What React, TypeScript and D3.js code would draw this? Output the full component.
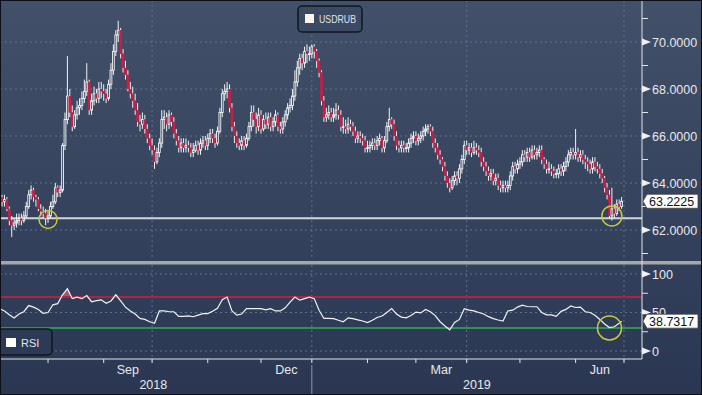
import * as d3 from 'd3';

// daily USDRUB, 2 Jul 2018 .. 28 Jun 2019 (weekdays)
const startDate = '2018-07-02';
const firstOpen = 63.4;
const closes = [
  63.6, 63.3, 63.4, 63.2, 63.3, 62.9, 62.4, 62.2, 62.3, 62.4,
  62.5, 62.4, 62.6, 63.0, 63.5, 63.7, 63.4, 63.3, 62.9, 62.8,
  62.7, 62.5, 62.6, 63.0, 63.2, 63.8, 63.6, 63.7, 65.6, 66.7,
  67.7, 67.0, 66.4, 66.9, 67.2, 67.3, 67.6, 67.9, 68.3, 67.1,
  67.5, 67.8, 67.6, 68.0, 67.9, 67.8, 67.6, 68.2, 68.8, 69.6,
  70.3, 70.5, 69.5, 68.9, 68.6, 68.0, 67.8, 67.5, 67.1, 66.6,
  66.5, 66.7, 66.3, 65.9, 65.6, 65.4, 64.9, 65.3, 65.7, 66.7,
  66.8, 66.5, 66.9, 66.6, 66.1, 65.8, 65.5, 65.7, 65.5, 65.6,
  65.5, 65.3, 65.4, 65.6, 65.4, 65.7, 65.8, 65.6, 65.9, 66.1,
  65.9, 65.7, 66.2, 67.0, 67.8, 67.9, 68.0, 67.2, 66.4, 66.0,
  65.7, 65.6, 65.8, 65.6, 65.9, 66.4, 67.0, 66.7, 66.4, 66.9,
  66.3, 66.7, 66.5, 66.8, 66.4, 66.6, 66.9, 66.4, 66.3, 66.6,
  66.9, 67.2, 67.3, 67.7, 68.3, 68.9, 69.3, 69.1, 69.6, 69.5,
  69.5, 69.8, 69.6, 69.2, 68.7, 67.5, 66.8, 66.9, 67.0, 66.8,
  66.9, 67.1, 66.9, 66.4, 66.4, 66.3, 66.5, 66.4, 66.2, 65.9,
  66.0, 65.9, 65.8, 65.5, 65.5, 65.6, 65.7, 65.6, 65.8, 65.9,
  65.5, 65.8, 66.4, 66.7, 66.5, 66.0, 65.6, 65.5, 65.6, 65.5,
  65.5, 65.7, 65.9, 66.0, 65.8, 65.9, 66.0, 66.2, 66.3, 66.4,
  66.2, 65.7, 65.5, 65.2, 65.0, 64.7, 64.3, 64.0, 63.8, 64.1,
  64.3, 64.2, 64.6, 65.0, 65.6, 65.4, 65.5, 65.3, 65.5, 65.4,
  65.3, 64.9, 64.7, 64.5, 64.3, 64.4, 64.1, 64.2, 63.9, 63.8,
  63.9, 63.8, 63.9, 64.3, 64.7, 64.6, 64.8, 64.9, 65.2, 65.1,
  65.3, 65.1, 65.4, 65.2, 65.3, 65.4, 65.0, 64.8, 64.6, 64.6,
  64.5, 64.4, 64.4, 64.6, 64.5, 64.7, 64.9, 65.2, 65.3, 65.2,
  65.3, 65.1, 65.2, 65.0, 64.9, 64.8, 64.6, 64.9, 64.7, 64.6,
  64.4, 64.2, 63.8, 63.5, 62.6, 62.9, 62.7, 63.1, 63.0, 63.2225,
];
const highs = [
  63.9, 63.8, 63.6, 63.5, 63.5, 63.4, 63.0, 62.6, 62.5, 62.7,
  62.7, 62.7, 62.8, 63.2, 63.7, 63.9, 63.8, 63.5, 63.4, 63.1,
  63.0, 62.9, 62.8, 63.2, 63.5, 64.0, 63.9, 63.9, 65.7, 67.0,
  69.4, 68.0, 67.3, 67.1, 67.5, 67.6, 67.9, 68.4, 69.1, 68.4,
  67.8, 68.1, 68.0, 68.3, 68.3, 68.2, 68.0, 68.4, 69.1, 69.9,
  70.5, 70.9, 70.6, 69.7, 69.2, 68.8, 68.3, 68.1, 67.8, 67.4,
  66.9, 67.0, 66.9, 66.5, 66.1, 65.9, 65.6, 65.5, 65.9, 67.1,
  67.1, 67.0, 67.1, 67.0, 66.8, 66.3, 66.0, 65.9, 65.9, 65.9,
  65.8, 65.7, 65.7, 65.8, 65.8, 65.9, 66.0, 66.0, 66.1, 66.3,
  66.3, 66.1, 66.4, 67.2, 68.0, 68.2, 68.3, 68.2, 67.4, 66.6,
  66.2, 65.9, 66.0, 66.0, 66.1, 66.6, 67.3, 67.3, 67.0, 67.2,
  67.1, 66.9, 67.0, 67.0, 67.0, 66.8, 67.1, 67.0, 66.6, 66.8,
  67.1, 67.4, 67.6, 68.0, 68.8, 69.2, 69.5, 69.5, 69.8, 69.9,
  69.8, 69.9, 69.9, 69.7, 69.3, 68.8, 67.7, 67.2, 67.3, 67.2,
  67.2, 67.4, 67.3, 67.1, 66.8, 66.7, 66.8, 66.7, 66.6, 66.4,
  66.2, 66.2, 66.1, 66.0, 65.8, 65.8, 65.9, 65.9, 66.0, 66.1,
  66.0, 66.0, 66.6, 67.2, 66.8, 66.7, 66.2, 65.8, 65.8, 65.8,
  65.7, 65.9, 66.1, 66.2, 66.2, 66.1, 66.2, 66.4, 66.5, 66.5,
  66.5, 66.4, 65.9, 65.7, 65.4, 65.1, 64.9, 64.5, 64.2, 64.3,
  64.5, 64.5, 64.8, 65.2, 65.8, 65.8, 65.7, 65.7, 65.8, 65.7,
  65.6, 65.5, 65.1, 64.9, 64.7, 64.6, 64.6, 64.4, 64.4, 64.1,
  64.1, 64.1, 64.1, 64.5, 64.9, 64.9, 65.0, 65.1, 65.4, 65.4,
  65.5, 65.5, 65.6, 65.6, 65.5, 65.6, 65.6, 65.1, 65.0, 64.9,
  64.8, 64.7, 64.6, 64.8, 64.8, 64.9, 65.1, 65.4, 65.5, 65.5,
  66.3, 65.5, 65.4, 65.4, 65.2, 65.1, 65.0, 65.1, 65.1, 64.9,
  64.8, 64.6, 64.3, 64.0, 63.7, 63.8, 63.1, 63.3, 63.3, 63.4,
];
const lows = [
  63.2, 63.2, 63.2, 63.0, 63.0, 62.8, 62.2, 61.7, 62.0, 62.1,
  62.2, 62.2, 62.3, 62.5, 62.9, 63.3, 63.2, 63.0, 62.8, 62.6,
  62.5, 62.2, 62.3, 62.5, 62.9, 63.1, 63.4, 63.4, 63.6, 65.4,
  66.5, 66.8, 66.2, 66.3, 66.7, 66.9, 67.1, 67.4, 67.7, 66.9,
  66.9, 67.3, 67.4, 67.4, 67.6, 67.5, 67.4, 67.5, 68.0, 68.6,
  69.4, 70.0, 69.3, 68.7, 68.4, 67.9, 67.6, 67.2, 66.9, 66.4,
  66.2, 66.3, 66.1, 65.7, 65.4, 65.2, 64.6, 64.8, 65.1, 65.5,
  66.3, 66.2, 66.3, 66.4, 65.9, 65.6, 65.3, 65.3, 65.3, 65.3,
  65.3, 65.1, 65.1, 65.3, 65.2, 65.2, 65.5, 65.4, 65.4, 65.7,
  65.7, 65.5, 65.6, 66.1, 66.8, 67.5, 67.6, 67.0, 66.2, 65.7,
  65.5, 65.4, 65.4, 65.4, 65.5, 65.8, 66.2, 66.4, 66.1, 66.2,
  66.1, 66.2, 66.3, 66.3, 66.2, 66.2, 66.4, 66.2, 66.1, 66.1,
  66.4, 66.7, 67.0, 67.1, 67.5, 68.1, 68.6, 68.8, 68.9, 69.1,
  69.2, 69.3, 69.3, 68.9, 68.5, 67.3, 66.6, 66.6, 66.7, 66.6,
  66.6, 66.7, 66.7, 66.2, 66.1, 66.1, 66.1, 66.2, 66.0, 65.7,
  65.7, 65.7, 65.6, 65.3, 65.3, 65.3, 65.4, 65.4, 65.4, 65.6,
  65.3, 65.3, 65.7, 66.2, 66.3, 65.8, 65.4, 65.3, 65.3, 65.3,
  65.3, 65.3, 65.5, 65.7, 65.6, 65.6, 65.7, 65.8, 66.0, 66.1,
  66.0, 65.5, 65.3, 65.0, 64.8, 64.5, 64.1, 63.8, 63.6, 63.7,
  63.9, 63.9, 64.0, 64.4, 64.8, 65.2, 65.2, 65.1, 65.2, 65.2,
  65.1, 64.7, 64.5, 64.3, 64.1, 64.1, 63.9, 63.9, 63.7, 63.6,
  63.6, 63.6, 63.6, 63.7, 64.1, 64.4, 64.4, 64.6, 64.7, 64.9,
  64.9, 64.9, 65.0, 65.0, 65.0, 65.1, 64.8, 64.6, 64.4, 64.4,
  64.3, 64.2, 64.2, 64.2, 64.3, 64.3, 64.5, 64.7, 65.0, 65.0,
  65.0, 64.9, 64.9, 64.8, 64.6, 64.5, 64.4, 64.4, 64.5, 64.4,
  64.2, 64.0, 63.6, 63.3, 62.5, 62.4, 62.5, 62.6, 62.8, 62.9,
];
// RSI read every second trading day, last value on the final day
const rsiValues = [
  56, 55, 52, 47, 43, 48, 51, 59, 57, 54,
  49, 50, 60, 61.5, 73, 81, 68, 70, 68, 72,
  64, 65.5, 66.5, 62, 65, 73, 65, 57, 52, 48,
  42.3, 41, 38, 36, 52, 52, 51, 51, 45, 45,
  45.5, 44.5, 46.5, 48.5, 48.5, 51.5, 55.5, 66.5, 70, 52,
  46.5, 48, 55, 55, 55, 55, 53.5, 55, 52, 52,
  56, 63.5, 70, 66, 68, 70, 68, 53, 42.3, 42.3,
  42, 40, 38, 43, 42, 40.5, 39, 37, 40, 43.5,
  45.5, 50, 55, 48, 44, 43, 46, 50.5, 49.5, 54,
  51, 46, 38, 32.5, 27.5, 37, 41, 55, 53, 52,
  50, 48, 44.6, 42, 40.3, 39, 52, 53, 57, 59.5,
  57.8, 57.5, 57.5, 50, 47, 46.8, 45, 51.5, 54, 58.5,
  56.5, 57, 51, 50, 46.5, 41, 35, 30.5, 31.5, 36,
];
const rsiLast = 38.7317;

const seriesName = 'USDRUB';
const rsiName = 'RSI';
const priceTicks = [62, 64, 66, 68, 70];
const priceMinorTicks = [61, 63, 65, 67, 69, 71];
const rsiTicks = [0, 50, 100];
const rsiMinorTicks = [25, 75];
const overbought = 70;
const oversold = 30;
const supportLevel = 62.5;
const labelMonths = [8, 11, 2, 5]; // Sep, Dec, Mar, Jun

const W = 702, H = 395;
const plotRight = 642;
const font = 'Liberation Sans, Arial, sans-serif';

function App() {
  // weekday calendar (one extra day so the Jul 1 boundary exists)
  const dates: Date[] = [];
  let d = new Date(startDate + 'T00:00:00Z');
  while (dates.length < closes.length + 1) {
    const wd = d.getUTCDay();
    if (wd !== 0 && wd !== 6) dates.push(new Date(d));
    d = new Date(d.getTime() + 86400000);
  }

  const x = d3.scaleLinear().domain([0, 260]).range([-5.2, 624]);
  const yP = d3.scaleLinear().domain([62, 70]).range([230, 42]);
  const yR = d3.scaleLinear().domain([0, 100]).range([351, 274]);

  const candles = closes.map((c, i) => {
    const o = i === 0 ? firstOpen : closes[i - 1];
    return { i, o, c, h: Math.max(highs[i], o, c), l: Math.min(lows[i], o, c) };
  });

  const rsiPts: [number, number][] = rsiValues.map((v, k) => [k * 2, v]);
  rsiPts.push([closes.length - 1, rsiLast]);
  const rsiLine = d3.line<[number, number]>().x(p => x(p[0])).y(p => yR(p[1]));
  const rsiArea = d3.area<[number, number]>()
    .x(p => x(p[0]))
    .y0(yR(overbought))
    .y1(p => yR(Math.max(p[1], overbought)));

  // month boundaries
  const monthStarts: number[] = [];
  for (let i = 1; i < dates.length; i++) {
    if (dates[i].getUTCMonth() !== dates[i - 1].getUTCMonth()) monthStarts.push(i);
  }
  const quarterStarts = monthStarts.filter(i => dates[i].getUTCMonth() % 3 === 0);
  const monthLabels = monthStarts.slice(0, -1)
    .map((s, k) => ({ s, e: monthStarts[k + 1], m: dates[s].getUTCMonth() }))
    .filter(o => labelMonths.includes(o.m))
    .map(o => ({ cx: (x(o.s) + x(o.e)) / 2, text: d3.utcFormat('%b')(dates[o.s]) }));
  const yearBreak = monthStarts.find(i => dates[i].getUTCMonth() === 0) as number;
  const years = [
    { cx: (x(0) + x(yearBreak)) / 2, text: String(dates[0].getUTCFullYear()) },
    { cx: (x(yearBreak) + plotRight) / 2, text: String(dates[yearBreak].getUTCFullYear()) },
  ];

  const grid = '#61718d';
  const lastY = yP(closes[closes.length - 1]);
  const rsiY = yR(rsiLast);
  const tag = (y: number) =>
    `643,${y} 647,${y - 7} 698,${y - 7} 698,${y + 7} 647,${y + 7}`;

  return (
    <svg width={W} height={H} style={{ position: 'fixed', left: 0, top: 0 }} fontFamily={font}>
      <defs>
        <linearGradient id="bg" x1="0" y1="0" x2="0" y2="1">
          <stop offset="0" stopColor="#425069" />
          <stop offset="0.6" stopColor="#33415c" />
          <stop offset="1" stopColor="#2b3752" />
        </linearGradient>
        <clipPath id="main"><rect x={0} y={0} width={plotRight} height={260} /></clipPath>
        <clipPath id="low"><rect x={0} y={265} width={plotRight} height={94} /></clipPath>
        <clipPath id="aboveTag"><rect x={plotRight} y={265} width={60} height={rsiY - 7 - 265} /></clipPath>
      </defs>
      <rect x={0} y={0} width={W} height={H} fill="url(#bg)" />

      {/* grid */}
      {priceTicks.map(t => (
        <line key={'pg' + t} x1={0} x2={plotRight} y1={yP(t)} y2={yP(t)} stroke={grid} strokeDasharray="2,3" />
      ))}
      {rsiTicks.map(t => (
        <line key={'rg' + t} x1={0} x2={plotRight} y1={yR(t)} y2={yR(t)} stroke={grid} strokeDasharray="2,3" />
      ))}
      {quarterStarts.map(i => (
        <g key={'vg' + i}>
          <line x1={x(i)} x2={x(i)} y1={0} y2={260} stroke={grid} strokeDasharray="2,3" />
          <line x1={x(i)} x2={x(i)} y1={265} y2={363} stroke={grid} strokeDasharray="2,3" />
        </g>
      ))}

      {/* support line + candles */}
      <line x1={0} x2={plotRight} y1={yP(supportLevel)} y2={yP(supportLevel)} stroke="#d4d6da" strokeWidth={2} />
      <g clipPath="url(#main)">
        {candles.map(k => {
          const cx = x(k.i);
          const top = yP(Math.max(k.o, k.c));
          const bot = yP(Math.min(k.o, k.c));
          const up = k.c >= k.o;
          return (
            <g key={k.i}>
              <line x1={cx} x2={cx} y1={yP(k.h)} y2={top} stroke="#f2f2f2" strokeWidth={1} />
              <line x1={cx} x2={cx} y1={bot} y2={yP(k.l)} stroke="#f2f2f2" strokeWidth={1} />
              {up ? (
                <rect x={cx - 0.9} y={top} width={1.8} height={Math.max(bot - top, 0.8)}
                  fill="none" stroke="#f4f4f4" strokeWidth={0.9} />
              ) : (
                <rect x={cx - 1.3} y={top} width={2.6} height={Math.max(bot - top, 1)} fill="#c91d45" />
              )}
            </g>
          );
        })}
      </g>
      <circle cx={x(22)} cy={yP(62.45)} r={9} fill="none" stroke="#c9c93c" strokeWidth={1.5} />
      <circle cx={x(255)} cy={yP(62.6)} r={10} fill="none" stroke="#c9c93c" strokeWidth={1.5} />

      {/* separator */}
      <rect x={0} y={261} width={W} height={3.5} fill="#a7a7a7" />

      {/* RSI */}
      <g clipPath="url(#low)">
        <path d={rsiArea(rsiPts) as string} fill="#a2586a" />
        <line x1={0} x2={plotRight} y1={yR(overbought)} y2={yR(overbought)} stroke="#b0223f" strokeWidth={2} />
        <line x1={0} x2={plotRight} y1={yR(oversold)} y2={yR(oversold)} stroke="#2bb54a" strokeWidth={1.5} />
        <path d={rsiLine(rsiPts) as string} fill="none" stroke="#f2f2f2" strokeWidth={1.2} />
      </g>
      <circle cx={x(254)} cy={yR(30)} r={12} fill="none" stroke="#c9c93c" strokeWidth={1.5} />

      {/* right axis */}
      <line x1={plotRight} x2={plotRight} y1={0} y2={359} stroke="#e4e4e4" />
      {priceMinorTicks.map(t => (
        <line key={'pm' + t} x1={plotRight} x2={plotRight + 6} y1={yP(t)} y2={yP(t)} stroke="#e4e4e4" />
      ))}
      {priceTicks.map(t => (
        <g key={'pt' + t}>
          <polygon points={`${plotRight},${yP(t) - 3.5} ${plotRight + 9},${yP(t)} ${plotRight},${yP(t) + 3.5}`} fill="#f0f0f0" />
          <text x={plotRight + 10} y={yP(t)} dy="0.36em" fontSize={12.5} fill="#e8e8e8">{t.toFixed(4)}</text>
        </g>
      ))}
      {rsiMinorTicks.map(t => (
        <line key={'rm' + t} x1={plotRight} x2={plotRight + 6} y1={yR(t)} y2={yR(t)} stroke="#e4e4e4" />
      ))}
      {rsiTicks.map(t => (
        <g key={'rt' + t} clipPath={t === 50 ? 'url(#aboveTag)' : undefined}>
          <polygon points={`${plotRight},${yR(t) - 3.5} ${plotRight + 9},${yR(t)} ${plotRight},${yR(t) + 3.5}`} fill="#f0f0f0" />
          <text x={plotRight + 10} y={yR(t)} dy="0.36em" fontSize={12.5} fill="#e8e8e8">{t}</text>
        </g>
      ))}
      <polygon points={tag(lastY)} fill="#ffffff" stroke="#444" strokeWidth={0.8} />
      <text x={649} y={lastY} dy="0.36em" fontSize={12.5} fill="#111">{closes[closes.length - 1].toFixed(4)}</text>
      <polygon points={tag(rsiY)} fill="#ffffff" stroke="#444" strokeWidth={0.8} />
      <text x={649} y={rsiY} dy="0.36em" fontSize={12.5} fill="#111">{rsiLast.toFixed(4)}</text>

      {/* bottom axis */}
      <line x1={0} x2={plotRight} y1={359} y2={359} stroke="#e4e4e4" />
      {monthStarts.map(i => (
        <line key={'mt' + i} x1={x(i)} x2={x(i)} y1={359} y2={363} stroke="#e4e4e4" />
      ))}
      {monthLabels.map(m => (
        <text key={m.text} x={m.cx} y={374} textAnchor="middle" fontSize={12.5} fill="#e8e8e8">{m.text}</text>
      ))}
      <line x1={x(yearBreak)} x2={x(yearBreak)} y1={365} y2={395} stroke="#8b97aa" />
      {years.map(yv => (
        <text key={yv.text} x={yv.cx} y={389} textAnchor="middle" fontSize={12.5} fill="#e8e8e8">{yv.text}</text>
      ))}

      {/* legends */}
      <rect x={298} y={6} width={64} height={26} rx={4} fill="#3b4963" stroke="#12161f" strokeWidth={1.5} />
      <rect x={305} y={14} width={9} height={9} fill="#fff3ef" />
      <text x={319} y={23} fontSize={11} fill="#e2e4ea" textLength={37} lengthAdjust="spacingAndGlyphs">{seriesName}</text>
      <rect x={-4} y={329} width={56} height={26} rx={4} fill="#2d3a55" stroke="#12161f" strokeWidth={1.5} />
      <rect x={6} y={338} width={10} height={9} fill="#ffffff" />
      <text x={21} y={347} fontSize={11} fill="#e2e4ea">{rsiName}</text>

      <rect x={0.5} y={0.5} width={W - 1} height={H - 1} fill="none" stroke="#0c0f16" strokeWidth={1} />
    </svg>
  );
}

export default App;
